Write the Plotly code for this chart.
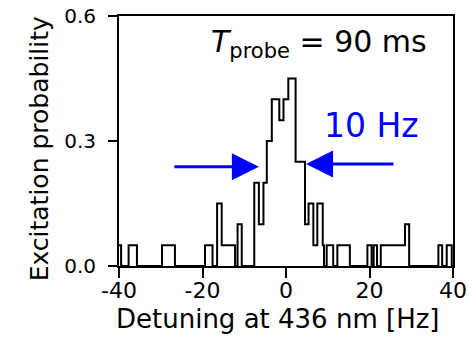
import plotly.graph_objects as go

# Step data: segment start detuning [Hz] and excitation probability on that segment
seg_start = [-40, -39.5, -37.7, -35.7, -29.7, -26.6, -19.4, -17.6, -16.5, -15.4,
             -12.2, -11.6, -10.6, -7.6, -6.5, -5.4, -4.6, -3.4, -1.6, -0.6,
             0.55, 2.3, 4.55, 5.4, 6.55, 7.5, 8.8, 9.1, 9.75, 11.3,
             12.3, 15.3, 19.5, 20.5, 21.0, 21.8, 22.7, 28.5, 29.5, 36.5,
             37.4, 38.5, 39.7]
seg_value = [0.05, 0, 0.05, 0, 0.05, 0, 0.05, 0, 0.15, 0.05,
             0, 0.1, 0, 0.2, 0.1, 0.2, 0.3, 0.4, 0.35, 0.4,
             0.45, 0.25, 0.1, 0.15, 0.05, 0.15, 0.05, 0, 0.05, 0,
             0.05, 0, 0.05, 0, 0.05, 0, 0.05, 0.1, 0, 0.05,
             0, 0.05, 0]
x_end = 40

x_ticks = [-40, -20, 0, 20, 40]
x_ticktext = ["-40", "-20", "0", "20", "40"]
y_ticks = [0.0, 0.3, 0.6]
y_ticktext = ["0.0", "0.3", "0.6"]

x_title = "Detuning at 436 nm [Hz]"
y_title = "Excitation probability"

# Arrow markers for the 10 Hz width (tail, tip) in data units
left_arrow = dict(tail=-27.1, tip=-6.5, y=0.238)
right_arrow = dict(tail=26.1, tip=4.8, y=0.245)

FONT = "DejaVu Sans"
BLUE = "#0000ff"

xs = seg_start + [x_end]
ys = seg_value + [seg_value[-1]]

fig = go.Figure()
fig.add_trace(go.Scatter(x=xs, y=ys, mode="lines", line=dict(color="black", width=2, shape="hv"),
                         cliponaxis=False, showlegend=False, hoverinfo="skip"))

annotations = [
    dict(x=34.3, y=0.533, xref="x", yref="y", xanchor="right", yanchor="middle", showarrow=False,
         text="<i>T</i><sub>probe</sub> = 90 ms", font=dict(family=FONT, size=30, color="black")),
    dict(x=20.4, y=0.337, xref="x", yref="y", xanchor="center", yanchor="middle", showarrow=False,
         text="10 Hz", font=dict(family=FONT, size=33, color=BLUE)),
    dict(x=0.475, y=-0.21, xref="paper", yref="paper", xanchor="center", yanchor="middle",
         showarrow=False, text=x_title, font=dict(family=FONT, size=26, color="black")),
    dict(x=-0.237, y=0.47, xref="paper", yref="paper", xanchor="center", yanchor="middle",
         showarrow=False, textangle=-90, text=y_title, font=dict(family=FONT, size=25, color="black")),
]
for a in (left_arrow, right_arrow):
    annotations.append(dict(x=a["tip"], y=a["y"], ax=a["tail"], ay=a["y"], xref="x", yref="y",
                            axref="x", ayref="y", text="", showarrow=True, arrowhead=2,
                            arrowsize=1.8, arrowwidth=3, arrowcolor=BLUE, font=dict(size=1)))

fig.update_layout(
    width=473, height=342,
    margin=dict(l=119, r=20, t=16, b=76),
    paper_bgcolor="white", plot_bgcolor="white",
    font=dict(family=FONT, color="black"),
    annotations=annotations,
    xaxis=dict(range=[-40, 40], tickvals=x_ticks, ticktext=x_ticktext, ticks="outside", ticklen=10,
               tickwidth=2, tickcolor="black", showline=True, linewidth=2, linecolor="black",
               mirror=True, showgrid=False, zeroline=False, tickfont=dict(size=22, family=FONT),
               ticklabelstandoff=-6, automargin=False),
    yaxis=dict(range=[0, 0.6], tickvals=y_ticks, ticktext=y_ticktext, ticks="outside", ticklen=9,
               tickwidth=2, tickcolor="black", showline=True, linewidth=2, linecolor="black",
               mirror=True, showgrid=False, zeroline=False, tickfont=dict(size=20, family=FONT),
               ticklabelstandoff=8, automargin=False),
)

fig.write_html("out.html")
